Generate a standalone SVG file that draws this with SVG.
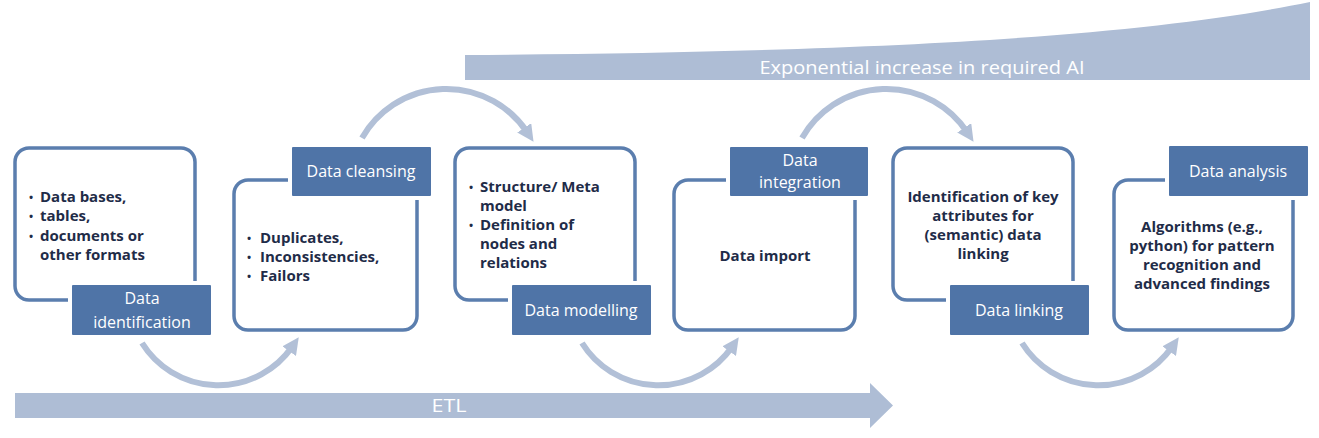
<svg xmlns="http://www.w3.org/2000/svg" width="1319" height="438" viewBox="0 0 1319 438">
<defs>
<style>
.box{fill:#ffffff;stroke:#5b7eae;stroke-width:3.5}
.lab{fill:#4f74a7;stroke:#ffffff;stroke-width:4}
.lt{font-family:"Open Sans",Lato,sans-serif;font-size:16px;fill:#ffffff;text-anchor:middle}
.bt{font-family:"Open Sans",Lato,sans-serif;font-size:15px;font-weight:bold;fill:#1f2c48}
.bu{font-size:11px}
.ct{text-anchor:middle}
.band{fill:#aebdd5}
.bandt{font-family:"Open Sans",Lato,sans-serif;font-size:18px;fill:#ffffff;text-anchor:middle}
.arc{fill:none;stroke:#b2c0d7;stroke-width:6;marker-end:url(#ah)}
</style>
<marker id="ah" viewBox="0 0 10 10" refX="3" refY="5" markerWidth="2.8" markerHeight="2.8" orient="auto">
<path d="M0,0 L10,5 L0,10 Z" fill="#b2c0d7"/>
</marker>
</defs>
<rect width="1319" height="438" fill="#ffffff"/>

<g id="ai-band">
<path class="band" d="M465,55 C900,52 1150,35 1310,2 L1310,80 L465,80 Z"/>
<text class="bandt" x="922" y="74" textLength="325" lengthAdjust="spacingAndGlyphs">Exponential increase in required AI</text>
</g>

<g id="etl-band">
<path class="band" d="M15,393 L870,393 L870,383 L893,405.5 L870,428 L870,418 L15,418 Z"/>
<text class="bandt" x="449" y="412" textLength="35" lengthAdjust="spacingAndGlyphs">ETL</text>
</g>

<g id="connectors">
<path class="arc" d="M362,138 A97,97 0 0 1 527,132"/>
<path class="arc" d="M802,138 A97,97 0 0 1 967,132"/>
<path class="arc" d="M142,343 A90,90 0 0 0 292,347"/>
<path class="arc" d="M582,343 A90,90 0 0 0 732,347"/>
<path class="arc" d="M1022,343 A90,90 0 0 0 1172,347"/>
</g>

<g id="node-identification">
<rect class="box" x="15" y="148" width="180" height="152" rx="14"/>
<text class="bt"><tspan class="bu" x="29" y="201">•</tspan><tspan x="40" y="202">Data bases,</tspan><tspan class="bu" x="29" y="220">•</tspan><tspan x="40" y="221">tables,</tspan><tspan class="bu" x="29" y="240">•</tspan><tspan x="40" y="241">documents or</tspan><tspan x="40" y="260">other formats</tspan></text>
<rect class="lab" x="70" y="283" width="143" height="54" rx="3"/>
<text class="lt"><tspan x="142" y="304">Data</tspan><tspan x="142" y="328">identification</tspan></text>
</g>

<g id="node-cleansing">
<rect class="box" x="234" y="180" width="183" height="150" rx="14"/>
<text class="bt"><tspan class="bu" x="247" y="242">•</tspan><tspan x="260" y="243">Duplicates,</tspan><tspan class="bu" x="247" y="261">•</tspan><tspan x="260" y="262">Inconsistencies,</tspan><tspan class="bu" x="247" y="280">•</tspan><tspan x="260" y="281">Failors</tspan></text>
<rect class="lab" x="290" y="145" width="143" height="53" rx="3"/>
<text class="lt" x="361" y="177">Data cleansing</text>
</g>

<g id="node-modelling">
<rect class="box" x="455" y="148" width="180" height="152" rx="14"/>
<text class="bt"><tspan class="bu" x="469" y="191">•</tspan><tspan x="480" y="192">Structure/ Meta</tspan><tspan x="480" y="211">model</tspan><tspan class="bu" x="469" y="229">•</tspan><tspan x="480" y="230">Definition of</tspan><tspan x="480" y="249">nodes and</tspan><tspan x="480" y="268">relations</tspan></text>
<rect class="lab" x="510" y="283" width="143" height="54" rx="3"/>
<text class="lt" x="581" y="316">Data modelling</text>
</g>

<g id="node-integration">
<rect class="box" x="674" y="180" width="181" height="150" rx="14"/>
<text class="bt ct" x="765" y="261">Data import</text>
<rect class="lab" x="728" y="145" width="142" height="53" rx="3"/>
<text class="lt"><tspan x="800" y="166">Data</tspan><tspan x="800" y="188">integration</tspan></text>
</g>

<g id="node-linking">
<rect class="box" x="893" y="148" width="180" height="152" rx="14"/>
<text class="bt ct"><tspan x="983" y="202">Identification of key</tspan><tspan x="983" y="221">attributes for</tspan><tspan x="983" y="240">(semantic) data</tspan><tspan x="983" y="259">linking</tspan></text>
<rect class="lab" x="948" y="283" width="143" height="54" rx="3"/>
<text class="lt" x="1019" y="316">Data linking</text>
</g>

<g id="node-analysis">
<rect class="box" x="1114" y="180" width="179" height="150" rx="14"/>
<text class="bt ct"><tspan x="1202" y="232">Algorithms (e.g.,</tspan><tspan x="1202" y="251">python) for pattern</tspan><tspan x="1202" y="270">recognition and</tspan><tspan x="1202" y="289">advanced findings</tspan></text>
<rect class="lab" x="1167" y="144" width="143" height="54" rx="3"/>
<text class="lt" x="1238" y="177">Data analysis</text>
</g>
</svg>
